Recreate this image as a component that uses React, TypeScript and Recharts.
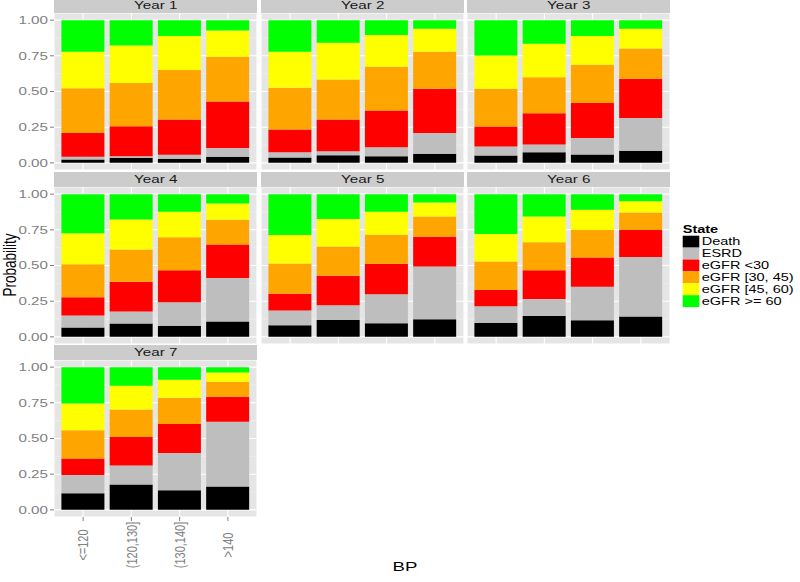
import React from "react";
import { BarChart, Bar, XAxis, YAxis, CartesianGrid } from "recharts";

const years = ["Year 1", "Year 2", "Year 3", "Year 4", "Year 5", "Year 6", "Year 7"];
const bpGroups = ["<=120", "(120,130]", "(130,140]", ">140"];
const states = ["Death", "ESRD", "eGFR <30", "eGFR [30, 45)", "eGFR [45, 60)", "eGFR >= 60"];
const stateColors = ["#000000", "#bebebe", "#ff0000", "#ffa500", "#ffff00", "#00ff00"];
const yTicks = [0, 0.25, 0.5, 0.75, 1];
const yMinor = [0.125, 0.375, 0.625, 0.875];

// one row per year, one value per BP group
const death = [
  [0.023, 0.035, 0.028, 0.042],
  [0.037, 0.054, 0.047, 0.063],
  [0.051, 0.075, 0.058, 0.084],
  [0.065, 0.093, 0.077, 0.107],
  [0.081, 0.119, 0.095, 0.123],
  [0.098, 0.147, 0.116, 0.142],
  [0.117, 0.177, 0.138, 0.163],
];
const esrd = [
  [0.019, 0.012, 0.028, 0.063],
  [0.038, 0.028, 0.063, 0.147],
  [0.063, 0.053, 0.117, 0.231],
  [0.084, 0.084, 0.165, 0.305],
  [0.103, 0.102, 0.203, 0.37],
  [0.116, 0.118, 0.235, 0.418],
  [0.128, 0.133, 0.261, 0.455],
];
const egfrBelow30 = [
  [0.168, 0.21, 0.248, 0.325],
  [0.159, 0.222, 0.257, 0.309],
  [0.141, 0.22, 0.245, 0.274],
  [0.128, 0.209, 0.225, 0.235],
  [0.118, 0.207, 0.214, 0.209],
  [0.114, 0.202, 0.205, 0.189],
  [0.114, 0.2, 0.202, 0.175],
];
const egfr30to45 = [
  [0.313, 0.303, 0.346, 0.313],
  [0.292, 0.28, 0.306, 0.259],
  [0.264, 0.252, 0.267, 0.212],
  [0.232, 0.226, 0.231, 0.174],
  [0.212, 0.205, 0.204, 0.142],
  [0.2, 0.196, 0.193, 0.123],
  [0.198, 0.194, 0.185, 0.104],
];
const egfr45to60 = [
  [0.255, 0.262, 0.238, 0.185],
  [0.252, 0.257, 0.222, 0.161],
  [0.233, 0.234, 0.201, 0.138],
  [0.217, 0.211, 0.179, 0.114],
  [0.2, 0.193, 0.161, 0.098],
  [0.193, 0.181, 0.142, 0.079],
  [0.189, 0.165, 0.125, 0.066],
];
const egfr60plus = [
  [0.222, 0.178, 0.112, 0.072],
  [0.222, 0.159, 0.105, 0.061],
  [0.248, 0.166, 0.112, 0.061],
  [0.274, 0.177, 0.123, 0.065],
  [0.286, 0.174, 0.123, 0.058],
  [0.279, 0.156, 0.109, 0.049],
  [0.254, 0.131, 0.089, 0.037],
];

const seriesValues = [death, esrd, egfrBelow30, egfr30to45, egfr45to60, egfr60plus];

const FONT = "'Liberation Sans', Arial, Helvetica, sans-serif";
const STRETCH = 1.38; // the reference is squeezed wider than tall
const colLeft = [54, 261, 467];
const rowTop = [13, 187, 360];
const panelW = 203;
const panelH = 157;
const stripH = 15;
const yAxisW = 54;
const xAxisH = 65;

function buildRows(y: number) {
  return bpGroups.map((bp, i) => {
    const row: any = { bp };
    seriesValues.forEach((vals, k) => {
      row["s" + k] = vals[y][i];
    });
    return row;
  });
}

function YTick(props: any) {
  const { x, y, payload } = props;
  return (
    <g transform={`translate(${x},${y})`}>
      <text
        transform={`scale(${STRETCH},1)`}
        textAnchor="end"
        dominantBaseline="central"
        fontSize={11}
        fontFamily={FONT}
        fill="#7f7f7f"
      >
        {Number(payload.value).toFixed(2)}
      </text>
    </g>
  );
}

function XTick(props: any) {
  const { x, y, payload } = props;
  return (
    <g transform={`translate(${x},${y + 22})`}>
      <text
        transform={`scale(${STRETCH},1) rotate(-90)`}
        textAnchor="middle"
        dominantBaseline="central"
        fontSize={11}
        fontFamily={FONT}
        fill="#7f7f7f"
      >
        {payload.value}
      </text>
    </g>
  );
}

function Panel({ index }: { index: number }) {
  const col = index % 3;
  const row = Math.floor(index / 3);
  const showY = col === 0;
  const showX = index === 6;
  const left = showY ? colLeft[col] - yAxisW : colLeft[col];
  const width = panelW + (showY ? yAxisW : 0);
  const height = panelH + (showX ? xAxisH : 0);
  const data = buildRows(index);

  return (
    <>
      <div
        style={{
          position: "absolute",
          left: colLeft[col],
          top: rowTop[row] - stripH,
          width: panelW,
          height: stripH,
          background: "#cccccc",
          textAlign: "center",
          lineHeight: stripH + "px",
          fontFamily: FONT,
          fontSize: 11,
          color: "#1a1a1a",
        }}
      >
        <span style={{ display: "inline-block", transform: `scaleX(${STRETCH})` }}>
          {years[index]}
        </span>
      </div>
      <div style={{ position: "absolute", left, top: rowTop[row] }}>
        <BarChart
          width={width}
          height={height}
          data={data}
          margin={{ top: 0, right: 0, bottom: 0, left: 0 }}
          barCategoryGap="5%"
        >
          <CartesianGrid
            fill="#e5e5e5"
            stroke="#f2f2f2"
            strokeWidth={0.6}
            horizontalValues={yMinor}
            vertical={false}
          />
          <CartesianGrid stroke="#ffffff" strokeWidth={1.1} />
          <XAxis
            dataKey="bp"
            type="category"
            padding={{ left: 5, right: 5 }}
            hide={!showX}
            height={showX ? xAxisH : 0}
            tickSize={4}
            tickMargin={2}
            axisLine={false}
            tickLine={{ stroke: "#7f7f7f" }}
            tick={XTick}
            interval={0}
          />
          <YAxis
            type="number"
            domain={[-0.05, 1.05]}
            ticks={yTicks}
            hide={!showY}
            width={showY ? yAxisW : 0}
            tickSize={4}
            tickMargin={2}
            axisLine={false}
            tickLine={{ stroke: "#7f7f7f" }}
            tick={YTick}
            interval={0}
          />
          {states.map((s, k) => (
            <Bar
              key={s}
              dataKey={"s" + k}
              name={s}
              stackId="p"
              fill={stateColors[k]}
              isAnimationActive={false}
            />
          ))}
        </BarChart>
      </div>
    </>
  );
}

export default function App() {
  const legendTop = 235.7;
  const keyH = 11.9;
  return (
    <div
      style={{
        position: "absolute",
        left: 0,
        top: 0,
        width: 800,
        height: 582,
        overflow: "hidden",
        background: "#ffffff",
        fontFamily: FONT,
      }}
    >
      {years.map((_, i) => (
        <Panel key={i} index={i} />
      ))}
      <svg
        width={800}
        height={582}
        style={{ position: "absolute", left: 0, top: 0, pointerEvents: "none" }}
      >
        <text
          transform={`translate(9,265) scale(${STRETCH},1) rotate(-90)`}
          textAnchor="middle"
          dominantBaseline="central"
          fontSize={13.5}
          fontFamily={FONT}
          fill="#000000"
        >
          Probability
        </text>
        <text
          transform={`translate(405,566) scale(${STRETCH},1)`}
          textAnchor="middle"
          dominantBaseline="central"
          fontSize={13.5}
          fontFamily={FONT}
          fill="#000000"
        >
          BP
        </text>
        <text
          transform={`translate(682.7,229) scale(1.32,1)`}
          dominantBaseline="central"
          fontSize={11}
          fontWeight="bold"
          fontFamily={FONT}
          fill="#000000"
        >
          State
        </text>
        {states.map((s, k) => (
          <g key={s}>
            <rect
              x={682.7}
              y={legendTop + k * keyH}
              width={16.6}
              height={keyH}
              fill={stateColors[k]}
            />
            <text
              transform={`translate(701.7,${legendTop + k * keyH + keyH / 2}) scale(1.32,1)`}
              dominantBaseline="central"
              fontSize={11}
              fontFamily={FONT}
              fill="#000000"
            >
              {s}
            </text>
          </g>
        ))}
      </svg>
    </div>
  );
}
